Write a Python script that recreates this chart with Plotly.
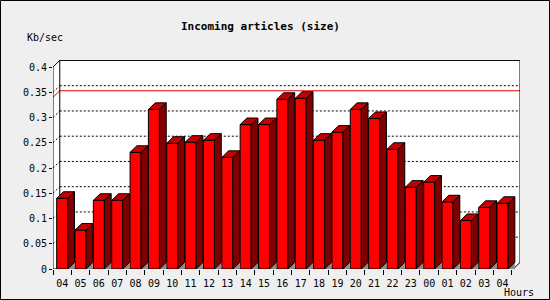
import plotly.graph_objects as go

# ---- data ----
hours = ["04", "05", "06", "07", "08", "09", "10", "11", "12", "13", "14", "15", "16",
         "17", "18", "19", "20", "21", "22", "23", "00", "01", "02", "03", "04"]
kb_per_sec = [0.140, 0.077, 0.136, 0.136, 0.231, 0.316, 0.249, 0.251, 0.255, 0.221,
              0.286, 0.286, 0.336, 0.338, 0.255, 0.271, 0.316, 0.298, 0.237, 0.162,
              0.172, 0.133, 0.096, 0.122, 0.130]
y_ticks = [0, 0.05, 0.1, 0.15, 0.2, 0.25, 0.3, 0.35, 0.4]
y_tick_text = ["0", "0.05", "0.1", "0.15", "0.2", "0.25", "0.3", "0.35", "0.4"]
peak_line = 0.34

# ---- geometry / style ----
W, H = 550, 300
ML, MR, MT, MB = 53, 30, 60, 31
X0 = -0.5
XMAX = 24.95
YMAX = 0.4139
DX = 0.37          # 3D depth in x units
DY = 0.013         # 3D depth in y units
HALF = 0.3         # half bar width
YTOP = 0.4
XFRONT_END = XMAX - DX

BG = "#efefef"
FRONT = "#ff0000"
SIDE = "#800000"
TOP = "#c40000"
FLOOR = "#8c8c8c"
MONO = "DejaVu Sans Mono"

n = len(kb_per_sec)
xs = list(range(n))

fig = go.Figure()

# side faces
sx, sy = [], []
tx, ty = [], []
fx, fy = [], []
for c, v in zip(xs, kb_per_sec):
    r = c + HALF
    l = c - HALF
    sx += [r, r + DX, r + DX, r, r, None]
    sy += [0, DY, v + DY, v, 0, None]
    tx += [l, l + DX, r + DX, r, l, None]
    ty += [v, v + DY, v + DY, v, v, None]
    fx += [r, r + DX, r + DX, r, None]
    fy += [0, DY, 0, 0, None]

fig.add_trace(go.Scatter(x=fx, y=fy, mode="lines", fill="toself", fillcolor=FLOOR,
                         line=dict(width=0, color=FLOOR), hoverinfo="skip", showlegend=False))
fig.add_trace(go.Scatter(x=sx, y=sy, mode="lines", fill="toself", fillcolor=SIDE,
                         line=dict(width=1, color="black"), hoverinfo="skip", showlegend=False))
fig.add_trace(go.Scatter(x=tx, y=ty, mode="lines", fill="toself", fillcolor=TOP,
                         line=dict(width=1, color="black"), hoverinfo="skip", showlegend=False))
fig.add_trace(go.Bar(x=xs, y=kb_per_sec, width=2 * HALF, marker=dict(color=FRONT,
                     line=dict(color="black", width=1)), hoverinfo="skip", showlegend=False))

shapes = []
# white box (left wall + back wall)
box_path = (f"M {X0},0 L {X0},{YTOP} L {X0+DX},{YTOP+DY} L {XMAX},{YTOP+DY} "
            f"L {XMAX},{DY} L {XFRONT_END},0 Z")
shapes.append(dict(type="path", path=box_path, xref="x", yref="y", fillcolor="white",
                   line=dict(width=0), layer="below"))
# dotted grid on back wall and left wall
for v in y_ticks[1:-1]:
    shapes.append(dict(type="line", xref="x", yref="y", x0=X0 + DX, x1=XMAX, y0=v + DY, y1=v + DY,
                       line=dict(color="black", width=1, dash="2px,2px"), layer="below"))
    shapes.append(dict(type="line", xref="x", yref="y", x0=X0, x1=X0 + DX, y0=v, y1=v + DY,
                       line=dict(color="black", width=1, dash="2px,2px"), layer="below"))
# peak line
shapes.append(dict(type="line", xref="x", yref="y", x0=X0 + DX, x1=XMAX, y0=peak_line + DY,
                   y1=peak_line + DY, line=dict(color="#e00000", width=1), layer="below"))
shapes.append(dict(type="line", xref="x", yref="y", x0=X0, x1=X0 + DX, y0=peak_line,
                   y1=peak_line + DY, line=dict(color="#e00000", width=1), layer="below"))
# box frame
frame = [
    (X0 + DX, DY, X0 + DX, YTOP + DY),
    (X0 + DX, YTOP + DY, XMAX, YTOP + DY),
    (XMAX, YTOP + DY, XMAX, DY),
    (X0, YTOP, X0 + DX, YTOP + DY),
    (XFRONT_END, 0, XMAX, DY),
    (X0, 0, X0, YTOP),
    (X0, 0, XFRONT_END, 0),
]
for a, b, c2, d in frame:
    shapes.append(dict(type="line", xref="x", yref="y", x0=a, y0=b, x1=c2, y1=d,
                       line=dict(color="black", width=1), layer="below"))
# outer border
pw = W - ML - MR
ph = H - MT - MB
shapes.append(dict(type="rect", xref="paper", yref="paper",
                   x0=(0.5 - ML) / pw, x1=(W - 0.5 - ML) / pw,
                   y0=(H - MB - (H - 0.5)) / ph, y1=(H - MB - 0.5) / ph,
                   line=dict(color="black", width=1), fillcolor="rgba(0,0,0,0)"))

annotations = [
    dict(text="<b>Incoming articles (size)</b>", xref="paper", yref="paper",
         x=(260.5 - ML) / pw, y=(H - MB - 27) / ph, showarrow=False,
         font=dict(family=MONO, size=11, color="black"), xanchor="center", yanchor="middle"),
    dict(text="Kb/sec", xref="paper", yref="paper",
         x=(45 - ML) / pw, y=(H - MB - 37) / ph, showarrow=False,
         font=dict(family=MONO, size=10, color="black"), xanchor="center", yanchor="middle"),
    dict(text="Hours", xref="paper", yref="paper",
         x=(519 - ML) / pw, y=(H - MB - 292) / ph, showarrow=False,
         font=dict(family=MONO, size=10, color="black"), xanchor="center", yanchor="middle"),
]

fig.update_layout(
    width=W, height=H,
    margin=dict(l=ML, r=MR, t=MT, b=MB, pad=0),
    paper_bgcolor=BG, plot_bgcolor=BG,
    shapes=shapes, annotations=annotations,
    bargap=0,
    xaxis=dict(range=[X0, XMAX], tickmode="array", tickvals=xs, ticktext=hours,
               showgrid=False, zeroline=False, showline=False,
               ticks="outside", ticklen=5, tickcolor="rgba(0,0,0,0)",
               minor=dict(tickmode="array", tickvals=[i + 0.5 for i in range(-1, n)],
                          ticks="outside", ticklen=5, tickcolor="black", tickwidth=1,
                          showgrid=False),
               tickfont=dict(family=MONO, size=10, color="black"),
               fixedrange=True, automargin=False),
    yaxis=dict(range=[0, YMAX], tickmode="array", tickvals=y_ticks, ticktext=y_tick_text,
               showgrid=False, zeroline=False, showline=False,
               ticks="outside", ticklen=3, tickcolor="black", tickwidth=1,
               tickfont=dict(family=MONO, size=10, color="black"),
               fixedrange=True, automargin=False),
)

fig.write_html("out.html", config={"displayModeBar": False, "staticPlot": True})
